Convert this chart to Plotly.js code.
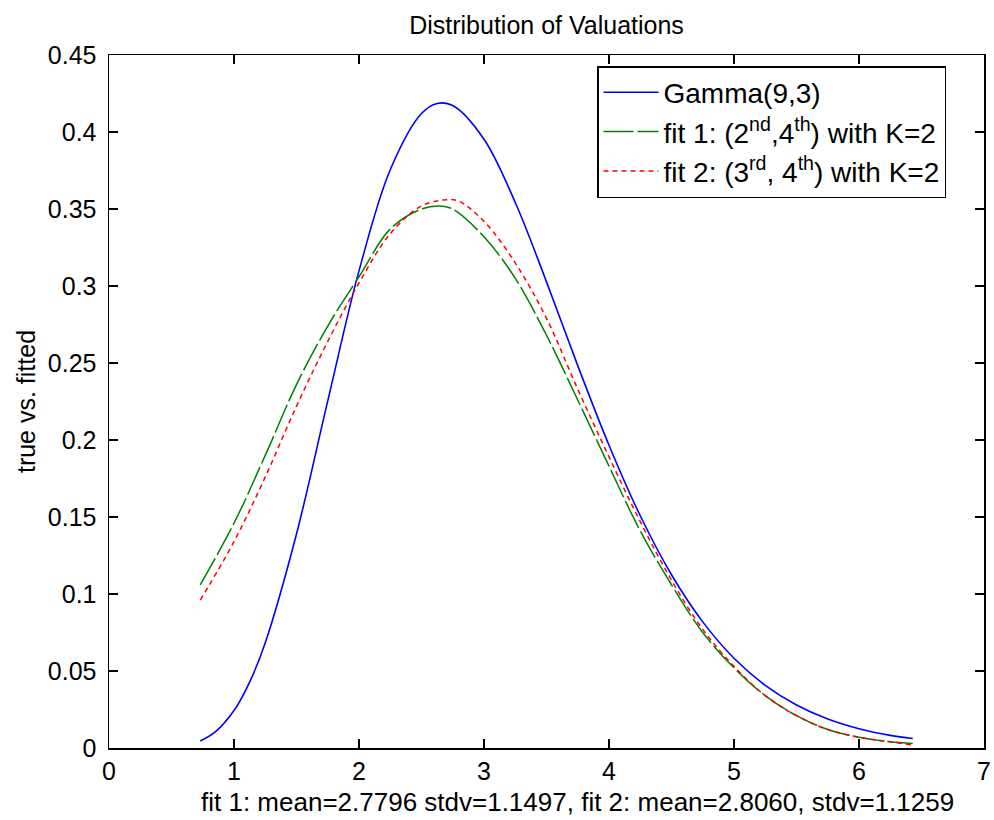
<!DOCTYPE html>
<html>
<head>
<meta charset="utf-8">
<script src="https://cdn.plot.ly/plotly-3.0.1.min.js"></script>
<style>body{margin:0;background:#fff}#chart{width:994px;height:820px}</style>
</head>
<body>
<div id="chart"></div>
<script>
// x positions (valuation)
const xGamma = [0.73, 0.85, 1.0, 1.125, 1.25, 1.5, 1.75, 2.0, 2.25, 2.5, 2.625, 2.75, 3.0, 3.25, 3.5, 3.75, 4.0, 4.25, 4.5, 4.75, 5.0, 5.25, 5.5, 5.75, 6.0, 6.25, 6.43];
const yGamma = [0.0045, 0.0104, 0.0243, 0.0428, 0.0684, 0.139, 0.2254, 0.3098, 0.3755, 0.412, 0.4185, 0.4172, 0.3953, 0.3542, 0.3027, 0.2483, 0.1966, 0.1508, 0.1125, 0.0819, 0.0583, 0.0407, 0.0279, 0.0188, 0.0125, 0.0082, 0.0062];

const xFit1 = [0.73, 1.0, 1.25, 1.5, 1.75, 2.0, 2.25, 2.5, 2.65, 2.75, 3.0, 3.25, 3.5, 3.75, 4.0, 4.25, 4.5, 4.75, 5.0, 5.25, 5.5, 5.75, 6.0, 6.25, 6.43];
const yFit1 = [0.106, 0.146, 0.19, 0.236, 0.274, 0.306, 0.337, 0.350, 0.352, 0.350, 0.332, 0.305, 0.268, 0.226, 0.183, 0.141, 0.106, 0.075, 0.052, 0.034, 0.021, 0.012, 0.007, 0.004, 0.003];

const xFit2 = [0.73, 1.0, 1.25, 1.5, 1.75, 2.0, 2.25, 2.5, 2.7, 2.8, 3.0, 3.25, 3.5, 3.75, 4.0, 4.25, 4.5, 4.75, 5.0, 5.25, 5.5, 5.75, 6.0, 6.25, 6.43];
const yFit2 = [0.096, 0.134, 0.176, 0.222, 0.264, 0.302, 0.334, 0.352, 0.356, 0.355, 0.342, 0.315, 0.279, 0.233, 0.189, 0.147, 0.109, 0.077, 0.053, 0.034, 0.021, 0.012, 0.007, 0.004, 0.002];

const seriesNames = ["Gamma(9,3)", "fit 1: (2<sup>nd</sup>,4<sup>th</sup>) with K=2", "fit 2: (3<sup>rd</sup>, 4<sup>th</sup>) with K=2"];
const xTicks = [0, 1, 2, 3, 4, 5, 6, 7];
const yTicks = [0, 0.05, 0.1, 0.15, 0.2, 0.25, 0.3, 0.35, 0.4, 0.45];
const yTickText = ["0", "0.05", "0.1", "0.15", "0.2", "0.25", "0.3", "0.35", "0.4", "0.45"];
const xTitleText = "fit 1: mean=2.7796 stdv=1.1497, fit 2: mean=2.8060, stdv=1.1259";

const FONT = "Liberation Sans, Arial, Helvetica, sans-serif";

const traces = [
  {x: xGamma, y: yGamma, name: seriesNames[0], mode: "lines", legendgroup: "a",
   line: {color: "#0000ff", width: 1.6, shape: "spline", smoothing: 1}},
  {x: xFit1, y: yFit1, name: seriesNames[1], mode: "lines", legendgroup: "b",
   line: {color: "#008000", width: 1.5, dash: "30px,4px", shape: "spline", smoothing: 1}},
  {x: xFit2, y: yFit2, name: seriesNames[2], mode: "lines", legendgroup: "c",
   line: {color: "#ff0000", width: 1.5, dash: "5px,4px", shape: "spline", smoothing: 1}}
];

const layout = {
  width: 994, height: 820,
  paper_bgcolor: "#fff", plot_bgcolor: "#fff",
  margin: {l: 109, r: 10, t: 55, b: 72, pad: 0},
  font: {family: FONT, size: 24, color: "#000"},
  title: {text: "Distribution of Valuations", font: {family: FONT, size: 25, color: "#000"},
          x: 0.5, xref: "paper", y: 1 - 25/820, yref: "container", yanchor: "middle"},
  xaxis: {
    range: [0, 7], tickvals: xTicks, ticktext: xTicks.map(String),
    ticks: "inside", ticklen: 9, tickwidth: 1.5, tickcolor: "#000",
    showline: true, linecolor: "#000", linewidth: 1.5, mirror: "ticks",
    showgrid: false, zeroline: false,
    tickfont: {family: FONT, size: 25, color: "#000"}
  },
  yaxis: {
    range: [0, 0.45], tickvals: yTicks, ticktext: yTickText,
    ticks: "inside", ticklen: 9, tickwidth: 1.5, tickcolor: "#000",
    showline: true, linecolor: "#000", linewidth: 1.5, mirror: "ticks",
    showgrid: false, zeroline: false, ticklabelstandoff: 6,
    tickfont: {family: FONT, size: 25, color: "#000"},
    title: {text: "true vs. fitted", font: {family: FONT, size: 25, color: "#000"}, standoff: 5}
  },
  annotations: [{
    text: xTitleText, xref: "paper", yref: "paper",
    x: (577 - 109) / 875, y: -(802 - 748) / 693, xanchor: "center", yanchor: "middle",
    showarrow: false, font: {family: FONT, size: 26, color: "#000"}
  }],
  legend: {
    x: (597 - 109) / 875, y: 1 - 11 / 693, xanchor: "left", yanchor: "top",
    bgcolor: "#fff", bordercolor: "#000", borderwidth: 1.5,
    font: {family: FONT, size: 28, color: "#000"},
    tracegroupgap: 0, itemwidth: 55
  },
  showlegend: true
};

Plotly.newPlot("chart", traces, layout, {displayModeBar: false, staticPlot: true});
</script>
</body>
</html>
